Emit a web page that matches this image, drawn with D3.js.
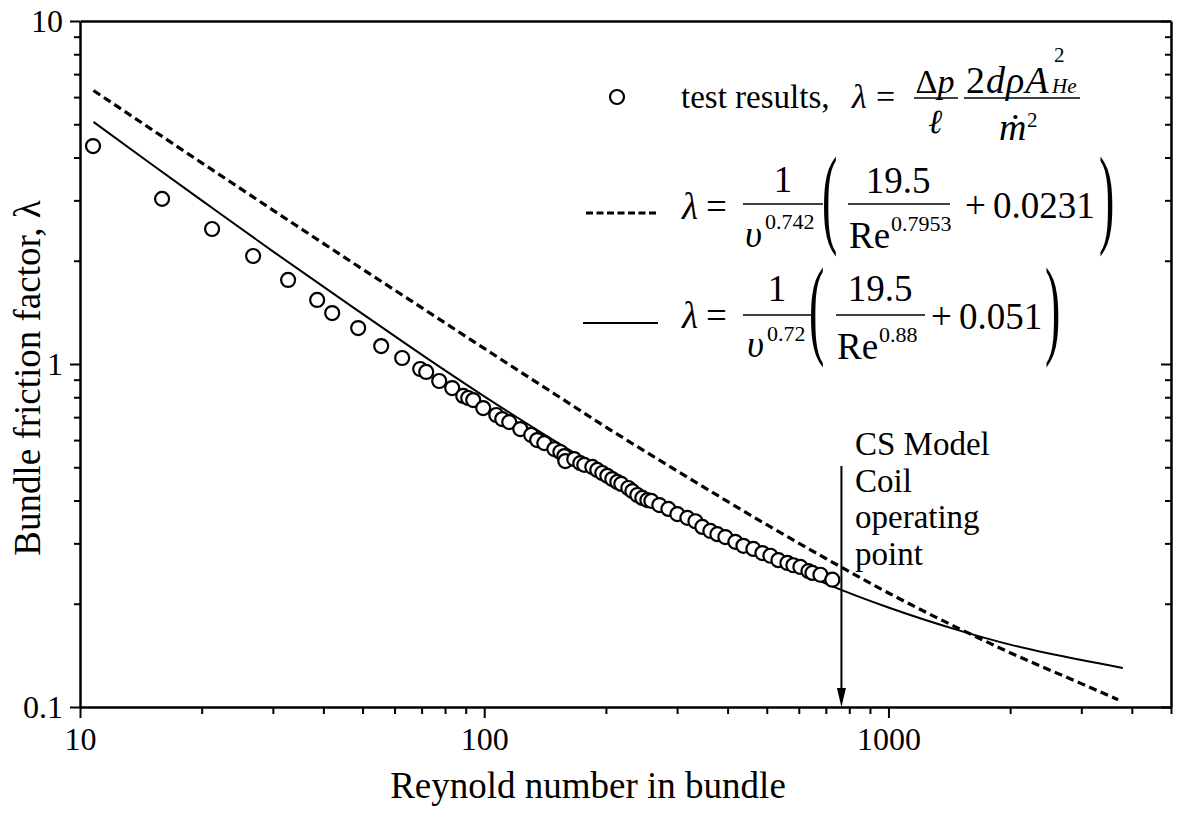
<!DOCTYPE html>
<html>
<head>
<meta charset="utf-8">
<script src="https://cdn.jsdelivr.net/npm/d3@7"></script>
<style>
  body { margin: 0; background: #fff; }
  svg { display: block; }
  text { font-family: "Liberation Serif", "Times New Roman", serif; fill: #000; }
</style>
</head>
<body>
<svg id="chart" width="1178" height="818"></svg>
<script>
// Measured bundle friction factor vs. Reynolds number
const reynolds = [10.77, 15.96, 21.22, 26.81, 32.72, 38.61, 42.06, 48.77, 55.6, 62.66,
  69.44, 71.86, 77.38, 83.33, 88.73, 91.29, 93.93, 99.43, 107.1, 110.8,
  115.3, 122.8, 130.7, 135.2, 140.8, 149.1, 154.3, 157.8, 158.7, 167.0,
  172.8, 176.8, 185.1, 190.4, 195.9, 201.6, 207.4, 213.4, 218.3, 227.2,
  232.5, 239.2, 246.1, 253.2, 259.1, 271.2, 285.5, 300.5, 318.1, 333.0,
  346.4, 362.6, 377.4, 394.9, 418.1, 437.7, 463.3, 487.7, 510.5, 534.3,
  562.3, 581.9, 605.6, 633.9, 648.5, 678.8, 726.6];
const frictionMeasured = [4.32, 3.03, 2.475, 2.065, 1.758, 1.537, 1.408, 1.273, 1.128, 1.041,
  0.967, 0.948, 0.892, 0.851, 0.807, 0.796, 0.785, 0.744, 0.710, 0.691,
  0.677, 0.646, 0.621, 0.600, 0.588, 0.565, 0.554, 0.539, 0.521, 0.528,
  0.514, 0.508, 0.501, 0.491, 0.481, 0.472, 0.462, 0.453, 0.447, 0.435,
  0.426, 0.415, 0.407, 0.401, 0.399, 0.388, 0.378, 0.365, 0.356, 0.348,
  0.335, 0.326, 0.319, 0.313, 0.303, 0.295, 0.289, 0.281, 0.276, 0.268,
  0.263, 0.259, 0.256, 0.249, 0.246, 0.243, 0.235];

// Correlation curves (dashed: 0.742 / 0.7953 / 0.0231 fit, solid: 0.72 / 0.88 / 0.051 fit)
const dashedRe = [10.8, 15, 20, 30, 50, 70, 100, 150, 200, 300, 500, 700, 1000, 1500, 2000, 3000, 3700];
const dashedLambda = [6.27, 4.84, 3.86, 2.81, 1.89, 1.46, 1.11, 0.815, 0.655, 0.488, 0.340, 0.271, 0.215, 0.169, 0.144, 0.117, 0.105];
const solidRe = [10.8, 15, 20, 30, 50, 70, 100, 150, 200, 300, 500, 700, 1000, 1500, 2000, 3000, 3800];
const solidLambda = [5.08, 3.83, 3.00, 2.13, 1.40, 1.065, 0.805, 0.595, 0.485, 0.370, 0.274, 0.229, 0.195, 0.167, 0.152, 0.137, 0.130];

// Axis ticks
const xMajorTicks = [10, 100, 1000];
const xMajorLabels = ["10", "100", "1000"];
const xMinorTicks = [20, 30, 40, 50, 60, 70, 80, 90, 200, 300, 400, 500, 600, 700, 800, 900, 2000, 3000, 4000, 5000];
const yMajorTicks = [0.1, 1, 10];
const yMajorLabels = ["0.1", "1", "10"];
const yMinorTicks = [0.2, 0.3, 0.4, 0.5, 0.6, 0.7, 0.8, 0.9, 2, 3, 4, 5, 6, 7, 8, 9];

// Operating point marker
const operatingRe = 765;
const operatingLabel = ["CS Model", "Coil", "operating", "point"];

const SERIF = '"Liberation Serif", "Times New Roman", serif';
const svg = d3.select("#chart");
const plotLeft = 80, plotRight = 1171, plotTop = 21, plotBottom = 707;

const x = d3.scaleLog().domain([10, 5000]).range([plotLeft, plotRight]);
const y = d3.scaleLog().domain([0.1, 10]).range([plotBottom, plotTop]);

// ---- axes ----
function styleAxis(g, width) {
  g.attr("font-family", SERIF);
  g.selectAll(".domain").attr("stroke", "#000").attr("stroke-width", width);
  g.selectAll(".tick line").attr("stroke", "#000").attr("stroke-width", 2);
  g.selectAll(".tick text")
    .style("font-size", "32px")
    .style("font-family", SERIF)
    .attr("fill", "#000");
}

// bottom
svg.append("g").attr("transform", `translate(0,${plotBottom})`)
  .call(d3.axisBottom(x).tickValues(xMinorTicks).tickSize(7).tickSizeOuter(0).tickFormat(""))
  .call(g => g.select(".domain").remove())
  .call(g => styleAxis(g, 2.5));
svg.append("g").attr("transform", `translate(0,${plotBottom})`)
  .call(d3.axisBottom(x).tickValues(xMajorTicks).tickSize(11).tickSizeOuter(0).tickPadding(9)
    .tickFormat((d, i) => xMajorLabels[i]))
  .call(g => styleAxis(g, 2.5));

// top (plain frame line)
svg.append("g").attr("transform", `translate(0,${plotTop})`)
  .call(d3.axisTop(x).tickValues([]).tickSizeOuter(0))
  .call(g => styleAxis(g, 2.5));

// left
svg.append("g").attr("transform", `translate(${plotLeft},0)`)
  .call(d3.axisLeft(y).tickValues(yMinorTicks).tickSize(6).tickSizeOuter(0).tickFormat(""))
  .call(g => g.select(".domain").remove())
  .call(g => styleAxis(g, 2.5));
svg.append("g").attr("transform", `translate(${plotLeft},0)`)
  .call(d3.axisLeft(y).tickValues(yMajorTicks).tickSize(10).tickSizeOuter(0).tickPadding(7)
    .tickFormat((d, i) => yMajorLabels[i]))
  .call(g => styleAxis(g, 2.5));

// right (ticks point inward)
svg.append("g").attr("transform", `translate(${plotRight},0)`)
  .call(d3.axisLeft(y).tickValues(yMinorTicks).tickSize(6).tickSizeOuter(0).tickFormat(""))
  .call(g => g.select(".domain").remove())
  .call(g => styleAxis(g, 2.5));
svg.append("g").attr("transform", `translate(${plotRight},0)`)
  .call(d3.axisLeft(y).tickValues(yMajorTicks).tickSize(10).tickSizeOuter(0).tickFormat(""))
  .call(g => styleAxis(g, 2.5));

// axis titles
svg.append("text")
  .attr("transform", "translate(40,378) rotate(-90)")
  .attr("text-anchor", "middle")
  .style("font-family", SERIF)
  .style("font-size", "37px")
  .text("Bundle friction factor, λ");
svg.append("text")
  .attr("x", 588).attr("y", 798)
  .attr("text-anchor", "middle")
  .style("font-family", SERIF)
  .style("font-size", "37px")
  .text("Reynold number in bundle");

// ---- correlation curves ----
const line = d3.line()
  .x(d => x(d[0]))
  .y(d => y(d[1]))
  .curve(d3.curveMonotoneX);

svg.append("path")
  .datum(dashedRe.map((r, i) => [r, dashedLambda[i]]))
  .attr("d", line)
  .attr("fill", "none").attr("stroke", "#000")
  .attr("stroke-width", 3.2).attr("stroke-dasharray", "8,4.5");

svg.append("path")
  .datum(solidRe.map((r, i) => [r, solidLambda[i]]))
  .attr("d", line)
  .attr("fill", "none").attr("stroke", "#000")
  .attr("stroke-width", 2);

// ---- measured points ----
svg.append("g").selectAll("circle")
  .data(reynolds.map((r, i) => [r, frictionMeasured[i]]))
  .join("circle")
  .attr("cx", d => x(d[0]))
  .attr("cy", d => y(d[1]))
  .attr("r", 7)
  .attr("fill", "#fff")
  .attr("stroke", "#000")
  .attr("stroke-width", 2.2);

// ---- operating point arrow ----
const ax = x(operatingRe);
svg.append("line")
  .attr("x1", ax).attr("x2", ax)
  .attr("y1", 466).attr("y2", plotBottom - 14)
  .attr("stroke", "#000").attr("stroke-width", 2);
svg.append("path")
  .attr("d", `M${ax - 4.5},${plotBottom - 19} L${ax + 4.5},${plotBottom - 19} L${ax},${plotBottom} Z`)
  .attr("fill", "#000");
svg.append("g").selectAll("text")
  .data(operatingLabel)
  .join("text")
  .attr("x", 855)
  .attr("y", (d, i) => 455 + i * 36.5)
  .style("font-family", SERIF)
  .style("font-size", "33px")
  .text(d => d);

// ---- legend ----
const lg = svg.append("g");
// segs: plain string, or array of [text, italic] pieces
function t(xp, yp, segs, size, opts = {}) {
  const el = lg.append("text")
    .attr("x", xp).attr("y", yp)
    .style("font-family", SERIF)
    .style("font-size", size + "px");
  const parts = typeof segs === "string" ? [[segs, !!opts.italic]] : segs;
  parts.forEach(([s, it]) => {
    el.append("tspan").style("font-style", it ? "italic" : "normal").text(s);
  });
  if (opts.anchor) el.attr("text-anchor", opts.anchor);
  if (opts.spacing) el.style("letter-spacing", opts.spacing + "px");
  if (opts.sy) el.attr("transform", `translate(${xp},${yp}) scale(1,${opts.sy})`).attr("x", 0).attr("y", 0);
  return el;
}
function bar(x1, x2, yp) {
  lg.append("line").attr("x1", x1).attr("x2", x2).attr("y1", yp).attr("y2", yp)
    .attr("stroke", "#000").attr("stroke-width", 1.6);
}

// row 1: measured points
lg.append("circle").attr("cx", 617).attr("cy", 97).attr("r", 7)
  .attr("fill", "#fff").attr("stroke", "#000").attr("stroke-width", 2.2);
t(681, 108, "test results,", 33);
t(852, 108, "λ", 34, { italic: true });
t(876, 108, "=", 34);
t(935, 93, [["Δ", false], ["p", true]], 34, { anchor: "middle" });
bar(914, 958, 98);
t(935, 133, "ℓ", 34, { italic: true, anchor: "middle" });
t(966, 93, [["2", false], ["dρA", true]], 38, { spacing: 1 });
t(1054, 62, "2", 21);
t(1052, 93, "He", 21, { italic: true });
bar(964, 1080, 98);
t(999, 140, "ṁ", 38, { italic: true });
t(1027, 127, "2", 21);

// row 2: dashed correlation
lg.append("line").attr("x1", 586).attr("x2", 659).attr("y1", 213).attr("y2", 213)
  .attr("stroke", "#000").attr("stroke-width", 3.2).attr("stroke-dasharray", "7,3.5");
t(682, 219, "λ", 37, { italic: true });
t(706, 219, "=", 37);
t(783, 192, "1", 37, { anchor: "middle" });
bar(743, 823, 204);
t(745, 247, "υ", 37, { italic: true });
t(765, 229, "0.742", 22);
t(822, 233, "(", 46, { sy: 2.4 });
t(898, 193, "19.5", 37, { anchor: "middle" });
bar(848, 950, 204);
t(849, 248, "Re", 37);
t(891, 231, "0.7953", 22);
t(965, 218, "+", 37);
t(993, 218, "0.0231", 37);
t(1099, 233, ")", 46, { sy: 2.4 });

// row 3: solid correlation
lg.append("line").attr("x1", 583).attr("x2", 658).attr("y1", 323).attr("y2", 323)
  .attr("stroke", "#000").attr("stroke-width", 2);
t(682, 328, "λ", 37, { italic: true });
t(706, 328, "=", 37);
t(777, 301, "1", 37, { anchor: "middle" });
bar(743, 811, 315);
t(747, 357, "υ", 37, { italic: true });
t(767, 341, "0.72", 22);
t(809, 344, "(", 46, { sy: 2.4 });
t(880, 301, "19.5", 37, { anchor: "middle" });
bar(836, 925, 315);
t(837, 359, "Re", 37);
t(879, 342, "0.88", 22);
t(931, 329, "+", 37);
t(959, 329, "0.051", 37);
t(1045, 344, ")", 46, { sy: 2.4 });
</script>
</body>
</html>
